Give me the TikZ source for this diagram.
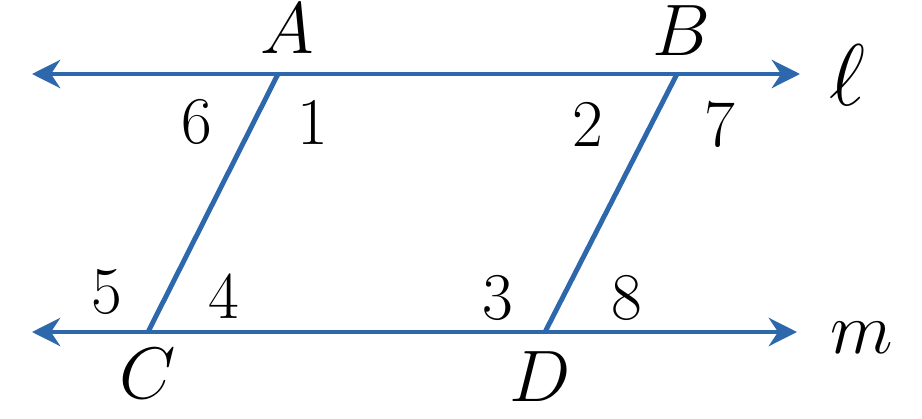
\documentclass[tikz,border=0pt]{standalone}
\usepackage{tikz}
\usetikzlibrary{arrows.meta}
\definecolor{lineBlue}{RGB}{46, 104, 172}

\begin{document}
\begin{tikzpicture}[>={Stealth[length=8pt,width=8pt]}, x=0.01cm, y=-0.01cm,
  ln/.style={draw=lineBlue, line width=1.4pt},
  pt/.style={font=\fontsize{20}{24}\selectfont},
  num/.style={font=\fontsize{19}{23}\selectfont}]
  \useasboundingbox (0,0) rectangle (922,418);

  \coordinate (A) at (278,74);
  \coordinate (B) at (677,74);
  \coordinate (C) at (148,332);
  \coordinate (D) at (545,332);
  \coordinate (lL) at (32,74);
  \coordinate (lR) at (800,74);
  \coordinate (mL) at (32,332);
  \coordinate (mR) at (797,332);

  \draw[ln,<->] (lL) -- (lR);
  \draw[ln,<->] (mL) -- (mR);
  \draw[ln] (A) -- (C);
  \draw[ln] (B) -- (D);

  \node[pt] (nA) at (287,29) {$A$};
  \node[pt] (nB) at (681,31) {$B$};
  \node[pt] (nC) at (148,374) {$C$};
  \node[pt] (nD) at (540,377) {$D$};
  \node[pt,font=\fontsize{24}{28}\selectfont] (nl) at (847,75) {$\ell$};
  \node[pt] (nm) at (862,338) {$m$};

  \node[num] (n6) at (197,122) {6};
  \node[num] (n1) at (313,122) {1};
  \node[num] (n2) at (588,124) {2};
  \node[num] (n7) at (720,124) {7};
  \node[num] (n5) at (107,292) {5};
  \node[num] (n4) at (224,296) {4};
  \node[num] (n3) at (498,298) {3};
  \node[num] (n8) at (627,298) {8};

\end{tikzpicture}
\end{document}
